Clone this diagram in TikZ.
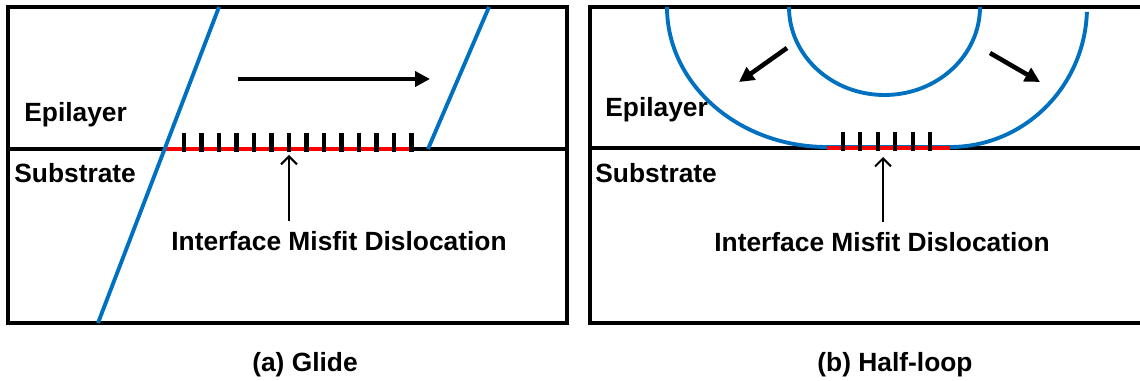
\documentclass[tikz,border=0pt]{standalone}
\usepackage{fontspec}
\setmainfont{Liberation Sans}
\usetikzlibrary{%
  arrows.meta,%
  calc%
}
\definecolor{loopblue}{RGB}{0,112,192}
\tikzset{>=latex}
\tikzset{
  frame/.style={line width=1.9pt},
  disl/.style={loopblue,line width=2.2pt},
  misfit/.style={red,line width=2.4pt},
  dislmark/.style={line width=2.3pt},
  lbl/.style={font=\fontsize{15}{18}\selectfont\bfseries,inner sep=0pt},
  bigarrow/.style={line width=2.6pt,-{Triangle[length=8.5pt,width=8.5pt]}},
  ptarrow/.style={line width=1.2pt,-{Straight Barb[length=4.5pt,width=9pt]}}
}

\begin{document}
\begin{tikzpicture}[x=0.02cm,y=0.02cm]
    \useasboundingbox (0,0) rectangle (1140,-381);
    % (a) glide
    \draw[frame] (8,-7) rectangle (567,-323);
    \draw[frame] (8,-149) -- (567,-149);
    \draw[misfit] (166,-149) -- (410,-149);
    \foreach \i in {0,...,13}
      \draw[dislmark] ({184+17.5*\i},-133) -- ++(0,-19);
    \draw[disl] (98,-323) -- (219,-7);
    \draw[disl] (428,-149) -- (489,-7);
    \coordinate (glideS) at (238,-79);
    \coordinate (glideE) at (430,-79);
    \draw[bigarrow] (glideS) -- (glideE);
    \node[lbl,anchor=base west] (epiA) at (24,-122) {Epilayer};
    \node[lbl,anchor=base west] (subA) at (14,-183) {Substrate};
    \node[lbl,anchor=base] (misA) at (339,-251) {Interface Misfit Dislocation};
    \node[lbl,anchor=base] (capA) at (305,-372) {(a) Glide};
    \coordinate (tipA) at (289,-155);
    \draw[ptarrow] ($(misA.north -| tipA)+(0,11)$) -- (tipA);
    % (b) half-loop
    \draw[frame] (1140,-7) -- (590,-7) -- (590,-323) -- (1140,-323);
    \draw[frame] (590,-148) -- (1140,-148);
    \draw[disl] (667,-7) arc[start angle=180,end angle=270,x radius=160,y radius=140]
      -- (950,-147) arc[start angle=270,end angle=358,x radius=137,y radius=140];
    \draw[disl] (789,-7) arc[start angle=180,end angle=360,x radius=95.5,y radius=88];
    \draw[misfit] (827,-148) -- (950,-148);
    \foreach \i in {0,...,5}
      \draw[dislmark] ({843+17.4*\i},-132) -- ++(0,-19);
    \coordinate (pushL0) at (787,-48);
    \coordinate (pushL1) at (739,-82);
    \coordinate (pushR0) at (990,-53);
    \coordinate (pushR1) at (1040,-82);
    \draw[bigarrow] (pushL0) -- (pushL1);
    \draw[bigarrow] (pushR0) -- (pushR1);
    \node[lbl,anchor=base west] (epiB) at (605,-117) {Epilayer};
    \node[lbl,anchor=base west] (subB) at (595,-183) {Substrate};
    \node[lbl,anchor=base] (misB) at (882,-252) {Interface Misfit Dislocation};
    \node[lbl,anchor=base] (capB) at (895,-372) {(b) Half-loop};
    \coordinate (tipB) at (883,-157);
    \draw[ptarrow] ($(misB.north -| tipB)+(0,11)$) -- (tipB);
\end{tikzpicture}
\end{document}
